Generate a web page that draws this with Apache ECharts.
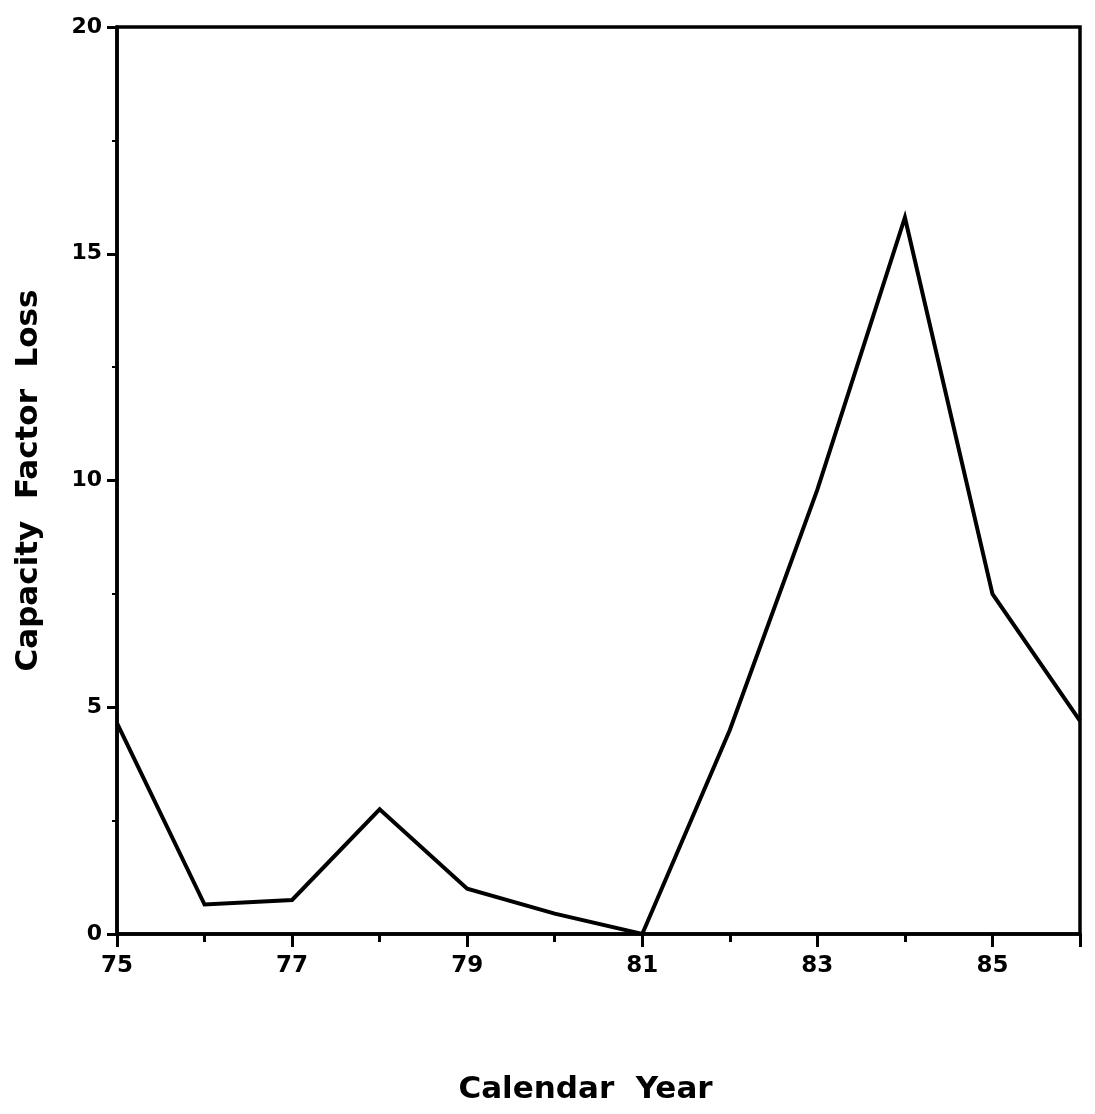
<!DOCTYPE html>
<html>
<head>
<meta charset="utf-8">
<title>Capacity Factor Loss by Calendar Year</title>
<script src="https://cdn.jsdelivr.net/npm/echarts@6/dist/echarts.min.js"></script>
<style>
  html, body { margin: 0; padding: 0; background: #fff; }
  #chart { width: 1095px; height: 1114px; }
</style>
</head>
<body>
<div id="chart"></div>
<script>
// Calendar years (two-digit) and the capacity factor loss for each year
const years = [75, 76, 77, 78, 79, 80, 81, 82, 83, 84, 85, 86];
const capacityFactorLoss = [4.65, 0.65, 0.75, 2.75, 1.0, 0.45, 0.0, 4.5, 9.8, 15.8, 7.5, 4.7];
const yTicks = [0, 5, 10, 15, 20];
const labelledYears = [75, 77, 79, 81, 83, 85];

const FONT = '"DejaVu Sans", "Liberation Sans", Arial, sans-serif';
const INK = '#000';

const gridBox = { left: 117, right: 15, top: 27, bottom: 180 };

const chart = echarts.init(document.getElementById('chart'), null, { renderer: 'canvas' });

chart.setOption({
  backgroundColor: '#fff',
  animation: false,
  grid: [
    Object.assign({ show: true, borderColor: INK, borderWidth: 3.5, backgroundColor: 'transparent', containLabel: false, outerBoundsMode: 'none' }, gridBox),
    // overlay grid carrying the longer ticks at the labelled years
    Object.assign({ show: false, containLabel: false, outerBoundsMode: 'none' }, gridBox)
  ],
  xAxis: [
    {
      gridIndex: 0,
      type: 'value',
      min: years[0],
      max: years[years.length - 1],
      interval: 1,
      name: 'Calendar  Year',
      nameLocation: 'middle',
      nameGap: 140,
      nameTextStyle: { fontFamily: FONT, fontWeight: 'bold', fontSize: 31, color: INK, padding: [0, 26, 0, 0] },
      axisLine: { show: true, lineStyle: { color: INK, width: 3.5 } },
      axisTick: { show: true, inside: false, length: 8, lineStyle: { color: INK, width: 3 } },
      axisLabel: {
        margin: 21,
        fontFamily: FONT, fontWeight: 'bold', fontSize: 23, color: INK,
        formatter: v => labelledYears.indexOf(v) >= 0 ? String(v) : ''
      },
      splitLine: { show: false }
    },
    {
      gridIndex: 1,
      type: 'value',
      min: years[0],
      max: years[years.length - 1],
      interval: 2,
      axisLine: { show: false },
      axisTick: { show: true, inside: false, length: 13, lineStyle: { color: INK, width: 3 } },
      axisLabel: { show: false },
      splitLine: { show: false }
    }
  ],
  yAxis: [
    {
      gridIndex: 0,
      type: 'value',
      min: yTicks[0],
      max: yTicks[yTicks.length - 1],
      interval: 5,
      name: 'Capacity  Factor  Loss',
      nameLocation: 'middle',
      nameGap: 73,
      nameRotate: 90,
      nameTextStyle: { fontFamily: FONT, fontWeight: 'bold', fontSize: 31, color: INK },
      axisLine: { show: true, lineStyle: { color: INK, width: 3.5 } },
      axisTick: { show: true, inside: false, length: 10, lineStyle: { color: INK, width: 3 } },
      minorTick: { show: true, splitNumber: 2, length: 5, lineStyle: { color: INK, width: 2 } },
      axisLabel: { margin: 15, fontFamily: FONT, fontWeight: 'bold', fontSize: 22, color: INK },
      splitLine: { show: false },
      minorSplitLine: { show: false }
    },
    {
      gridIndex: 1,
      type: 'value',
      min: 0,
      max: 20,
      show: false
    }
  ],
  series: [
    {
      type: 'line',
      xAxisIndex: 0,
      yAxisIndex: 0,
      data: years.map((yr, i) => [yr, capacityFactorLoss[i]]),
      symbol: 'none',
      smooth: false,
      clip: false,
      lineStyle: { color: INK, width: 4, join: 'miter' }
    }
  ]
});
</script>
</body>
</html>
